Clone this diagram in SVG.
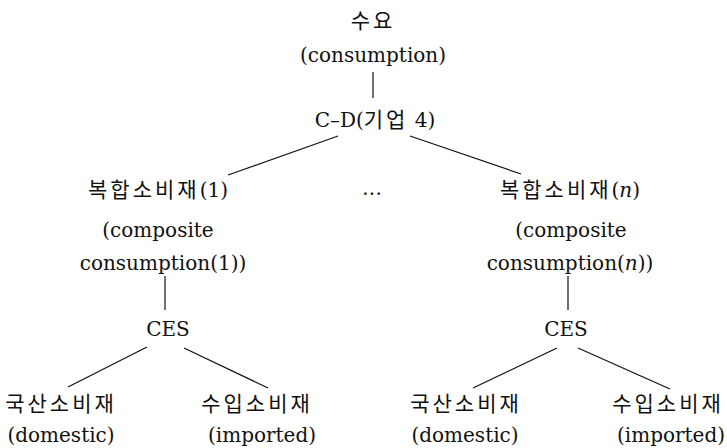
<svg xmlns="http://www.w3.org/2000/svg" width="727" height="448" viewBox="0 0 727 448">
<style>
text{font-family:"DejaVu Serif","Noto Sans CJK KR",serif;font-size:20px;fill:#111;text-anchor:middle}
.k{font-family:"Noto Sans CJK KR","DejaVu Serif",sans-serif;font-size:21px;letter-spacing:3px}
.i{font-style:italic}
line{stroke:#111;stroke-width:1.2}
</style>
<rect width="727" height="448" fill="#fff"/>
<g id="connectors">
<line x1="373" y1="72" x2="373" y2="98"/>
<line x1="338" y1="136" x2="228" y2="175"/>
<line x1="410" y1="136" x2="521" y2="174"/>
<line x1="165" y1="276" x2="165" y2="310"/>
<line x1="568" y1="276" x2="568" y2="310"/>
<line x1="147" y1="347" x2="68" y2="387"/>
<line x1="184" y1="348" x2="268" y2="388"/>
<line x1="557" y1="348" x2="473" y2="388"/>
<line x1="578" y1="348" x2="670" y2="389"/>
</g>
<g id="n-demand">
<text x="373" y="28" class="k">수요</text>
<text x="373" y="62">(consumption)</text>
</g>
<g id="n-cd">
<text x="375" y="127">C–D(<tspan class="k">기업</tspan> 4)</text>
</g>
<g id="n-comp1">
<text x="158" y="197"><tspan class="k">복합소비재</tspan>(1)</text>
<text x="158" y="237">(composite</text>
<text x="163" y="270">consumption(1))</text>
</g>
<g id="n-dots">
<text x="372" y="195">…</text>
</g>
<g id="n-compn">
<text x="570" y="197"><tspan class="k">복합소비재</tspan>(<tspan class="i">n</tspan>)</text>
<text x="571" y="237">(composite</text>
<text x="570" y="270">consumption(<tspan class="i">n</tspan>))</text>
</g>
<g id="n-ces1"><text x="168" y="336">CES</text></g>
<g id="n-cesn"><text x="566" y="336">CES</text></g>
<g id="n-dom1">
<text x="61" y="411" class="k">국산소비재</text>
<text x="61" y="442">(domestic)</text>
</g>
<g id="n-imp1">
<text x="257" y="411" class="k">수입소비재</text>
<text x="262" y="442">(imported)</text>
</g>
<g id="n-domn">
<text x="466" y="411" class="k">국산소비재</text>
<text x="465" y="442">(domestic)</text>
</g>
<g id="n-impn">
<text x="668" y="411" class="k">수입소비재</text>
<text x="671" y="442">(imported)</text>
</g>
</svg>
